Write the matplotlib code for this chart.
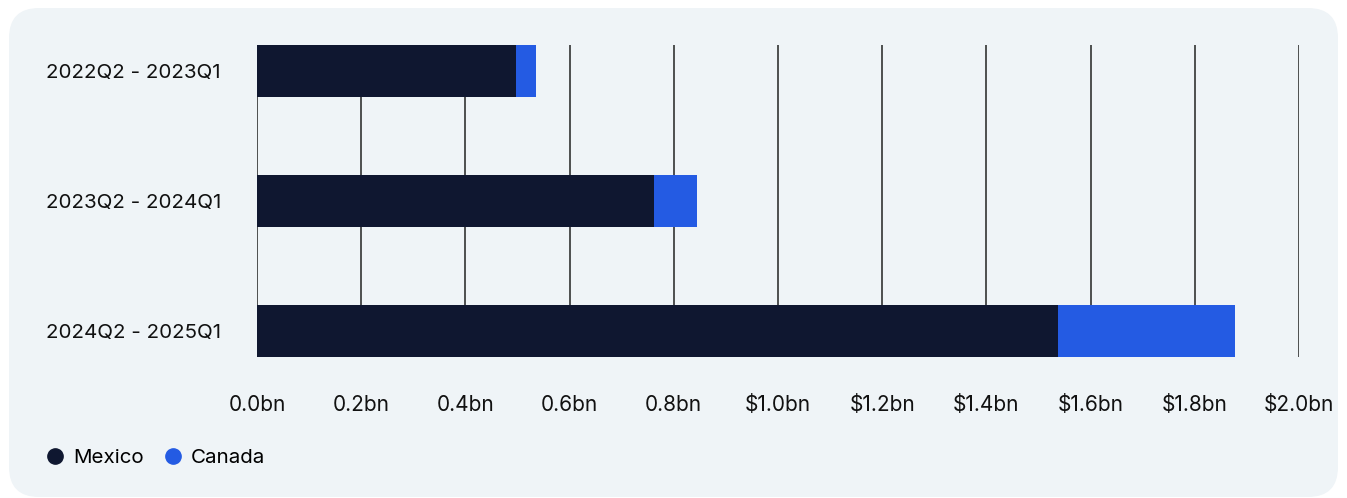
import matplotlib.pyplot as plt
from matplotlib.patches import FancyBboxPatch
from matplotlib.lines import Line2D

plt.rcParams['font.family'] = ['Inter', 'DejaVu Sans']

periods = ['2022Q2 - 2023Q1', '2023Q2 - 2024Q1', '2024Q2 - 2025Q1']
mexico = [0.497, 0.762, 1.537]
canada = [0.039, 0.083, 0.340]
xticks = [0.0, 0.2, 0.4, 0.6, 0.8, 1.0, 1.2, 1.4, 1.6, 1.8, 2.0]
xticklabels = ['0.0bn', '0.2bn', '0.4bn', '0.6bn', '0.8bn',
               '$1.0bn', '$1.2bn', '$1.4bn', '$1.6bn', '$1.8bn', '$2.0bn']

c_mex = '#0f1730'
c_can = '#245be3'
panel = '#eff4f7'
W, H = 1347, 498

fig = plt.figure(figsize=(W / 100, H / 100), dpi=100)
fig.patch.set_facecolor('white')

# rounded panel, drawn in pixel units on a background axes
bgax = fig.add_axes([0, 0, 1, 1], zorder=-10)
bgax.set_xlim(0, W)
bgax.set_ylim(H, 0)
bgax.axis('off')
bgax.add_patch(FancyBboxPatch((9, 8), 1329, 489,
                              boxstyle='round,pad=0,rounding_size=30',
                              facecolor=panel, edgecolor='none'))

ax = fig.add_axes([257 / W, 1 - 357 / H, 1042 / W, 312 / H])
ax.set_facecolor('none')

y = list(range(len(periods)))
h = 0.40
ax.barh(y, mexico, height=h, color=c_mex, zorder=3)
ax.barh(y, canada, left=mexico, height=h, color=c_can, zorder=3)

ax.set_ylim(len(periods) - 1 + h / 2, -h / 2)
ax.set_xlim(0, 2.0)
ax.set_yticks(y)
ax.set_yticklabels(periods, fontsize=14.8, color='#111111')
ax.set_xticks(xticks)
ax.set_xticklabels(xticklabels, fontsize=15, color='#111111')
ax.tick_params(axis='y', length=0, pad=26)
ax.tick_params(axis='x', length=0, pad=27.5)
ax.grid(axis='x', color='#222222', linewidth=1.1)
ax.set_axisbelow(True)
for s in ax.spines.values():
    s.set_visible(False)

handles = [Line2D([], [], marker='o', linestyle='none', markersize=11,
                  color=c_mex, label='Mexico'),
           Line2D([], [], marker='o', linestyle='none', markersize=11,
                  color=c_can, label='Canada')]
fig.legend(handles=handles, loc='center left', bbox_to_anchor=(24 / W, 1 - 458 / H),
           ncol=2, frameon=False, fontsize=14.8, handletextpad=0.3,
           columnspacing=0.8, handlelength=1.2)

fig.savefig('out.png', dpi=100)
